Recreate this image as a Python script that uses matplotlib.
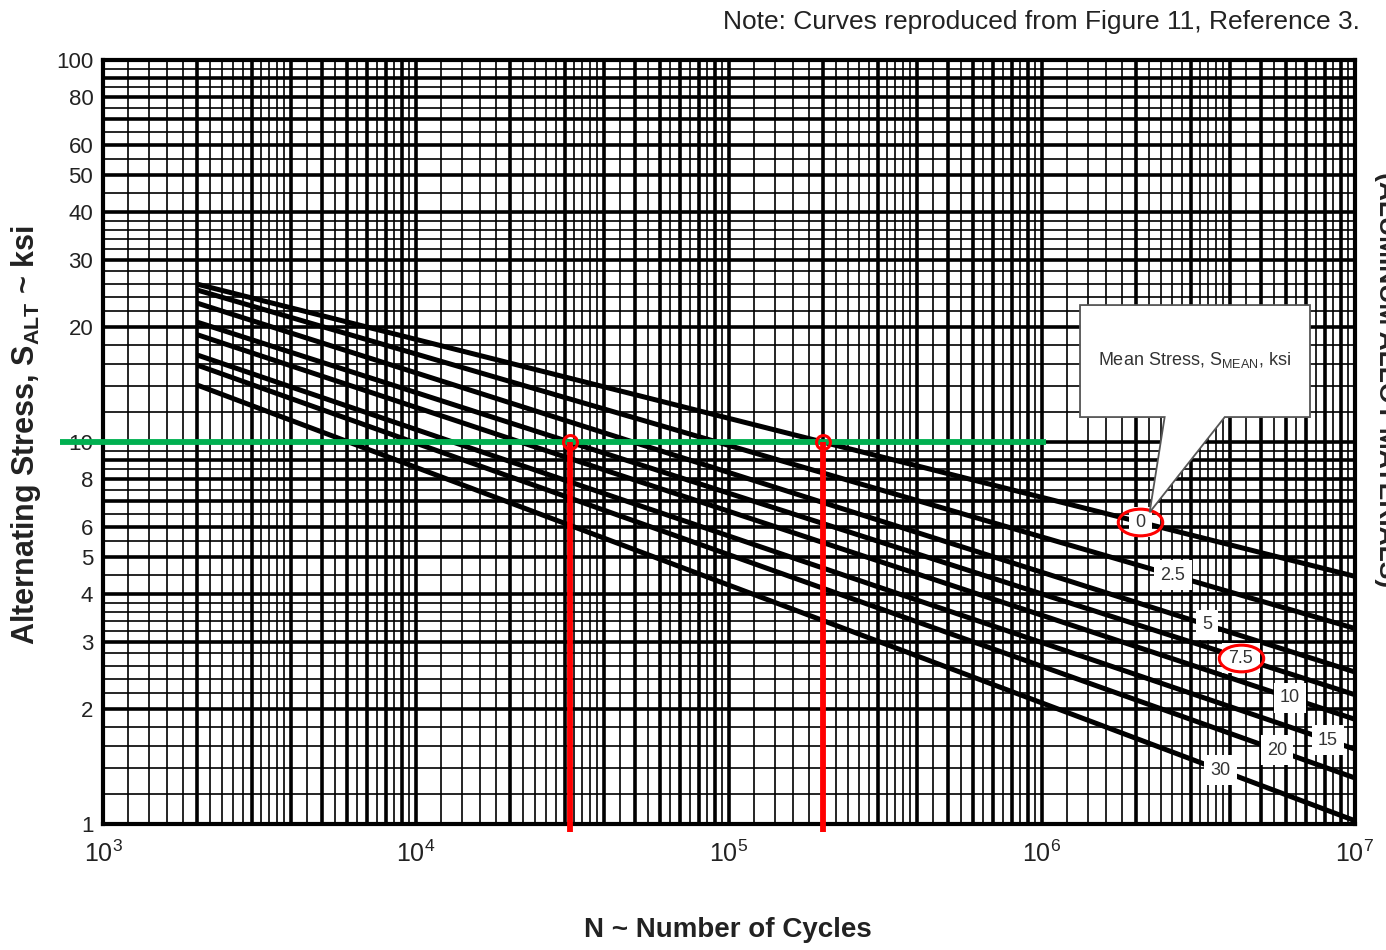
import numpy as np
import matplotlib
matplotlib.use("Agg")
import matplotlib.pyplot as plt
from matplotlib import font_manager
from matplotlib.ticker import FixedLocator, FuncFormatter, NullFormatter
from matplotlib.patches import Polygon
from matplotlib.path import Path
from matplotlib.transforms import Affine2D

# ---- S-N data (log-log straight lines between 2e3 and 1e7 cycles) ----
mean_stress = [0, 2.5, 5, 7.5, 10, 15, 20, 30]
curve_labels = ["0", "2.5", "5", "7.5", "10", "15", "20", "30"]
cycles_range = [2e3, 1e7]
s_alt_start = [25.9, 25.0, 23.1, 20.6, 19.1, 16.9, 15.9, 14.1]
s_alt_end = [4.45, 3.25, 2.50, 2.18, 1.88, 1.57, 1.32, 1.02]
label_cycles = [2.06e6, 2.62e6, 3.37e6, 4.32e6, 6.2e6, 8.2e6, 5.64e6, 3.71e6]
circled_means = [0, 7.5]
target_stress = 10.0

y_tick_values = [1, 2, 3, 4, 5, 6, 8, 10, 20, 30, 40, 50, 60, 80, 100]
x_decades = [3, 4, 5, 6, 7]
grid_major_mults = [1, 2, 3, 4, 5, 6, 7, 8, 9]
grid_minor_mults = [1.2, 1.4, 1.6, 1.8, 2.2, 2.4, 2.6, 2.8, 3.2, 3.4, 3.6, 3.8,
                    4.5, 5.5, 6.5, 7.5, 8.5, 9.5]


def pick_family(candidates):
    for fam in candidates:
        try:
            font_manager.findfont(font_manager.FontProperties(family=fam),
                                  fallback_to_default=False)
            return fam
        except Exception:
            continue
    return "DejaVu Sans"


narrow = pick_family(["Liberation Sans Narrow", "Arial Narrow", "Liberation Sans"])
plain = pick_family(["Liberation Sans", "Arial", "DejaVu Sans"])
plt.rcParams["font.family"] = [plain, "DejaVu Sans"]
plt.rcParams["mathtext.default"] = "regular"


def stress_at(i, n):
    l0, l1 = np.log10(cycles_range[0]), np.log10(cycles_range[1])
    t = (np.log10(n) - l0) / (l1 - l0)
    a, b = np.log10(s_alt_start[i]), np.log10(s_alt_end[i])
    return 10 ** (a + t * (b - a))


def cycles_at(i, s):
    l0, l1 = np.log10(cycles_range[0]), np.log10(cycles_range[1])
    a, b = np.log10(s_alt_start[i]), np.log10(s_alt_end[i])
    t = (np.log10(s) - a) / (b - a)
    return 10 ** (l0 + t * (l1 - l0))


fig = plt.figure(figsize=(13.86, 9.5), dpi=100)
fig.patch.set_facecolor("white")
ax = fig.add_axes([0.0743, 0.1326, 0.9033, 0.8042])
ax.set_xscale("log")
ax.set_yscale("log")
ax.set_xlim(1e3, 1e7)
ax.set_ylim(1, 100)

# log-paper grid
x_major = [m * 10.0 ** e for e in range(3, 7) for m in grid_major_mults] + [1e7]
x_minor = [m * 10.0 ** e for e in range(3, 7) for m in grid_minor_mults]
y_major = [m * 10.0 ** e for e in range(0, 2) for m in grid_major_mults] + [100]
y_minor = [m * 10.0 ** e for e in range(0, 2) for m in grid_minor_mults]

ax.xaxis.set_major_locator(FixedLocator(x_major))
ax.xaxis.set_minor_locator(FixedLocator(x_minor))
ax.yaxis.set_major_locator(FixedLocator(y_major))
ax.yaxis.set_minor_locator(FixedLocator(y_minor))
ax.xaxis.set_minor_formatter(NullFormatter())
ax.yaxis.set_minor_formatter(NullFormatter())


def x_fmt(v, pos):
    e = np.log10(v)
    if abs(e - round(e)) < 1e-6 and int(round(e)) in x_decades:
        return "$10^{%d}$" % int(round(e))
    return ""


def y_fmt(v, pos):
    for t in y_tick_values:
        if abs(v - t) < 1e-6 * t:
            return "%g" % t
    return ""


ax.xaxis.set_major_formatter(FuncFormatter(x_fmt))
ax.yaxis.set_major_formatter(FuncFormatter(y_fmt))
ax.tick_params(which="both", length=0)
ax.tick_params(axis="x", pad=12, labelsize=18, labelcolor="#222")
ax.tick_params(axis="y", pad=7, labelsize=16, labelcolor="#222")
for lab in ax.get_xticklabels() + ax.get_yticklabels():
    lab.set_family([narrow, "DejaVu Sans"])

ax.grid(which="major", color="black", lw=2.6)
ax.grid(which="minor", color="black", lw=1.2)
for sp in ax.spines.values():
    sp.set_linewidth(3)
    sp.set_color("black")

# S-N curves
for i in range(len(mean_stress)):
    ax.plot(cycles_range, [s_alt_start[i], s_alt_end[i]], color="black",
            lw=3.6, solid_capstyle="butt", zorder=3)

# curve labels
for i, txt in enumerate(curve_labels):
    n = label_cycles[i]
    ax.text(n, stress_at(i, n), txt, ha="center", va="center", fontsize=13,
            color="#333", family=[narrow, "DejaVu Sans"], zorder=5,
            bbox=dict(boxstyle="square,pad=0.35", fc="white", ec="none"))

# red ellipses around highlighted labels
ellipse_marker = Path.unit_circle().transformed(Affine2D().scale(1.0, 0.6))
for m in circled_means:
    i = mean_stress.index(m)
    n = label_cycles[i]
    ax.plot([n], [stress_at(i, n)], marker=ellipse_marker, ms=32, mfc="none",
            mec="red", mew=2.2, ls="none", zorder=6)

# target stress line and resulting lives
ax.plot([730, 1.03e6], [target_stress, target_stress], color="#00B050", lw=4.2,
        clip_on=False, zorder=6, solid_capstyle="butt")
for m in circled_means:
    i = mean_stress.index(m)
    n = cycles_at(i, target_stress)
    ax.plot([n, n], [target_stress, 0.953], color="red", lw=4.2, clip_on=False,
            zorder=7, solid_capstyle="butt")
    ax.plot([n], [target_stress], "o", ms=10, mfc="none", mec="red", mew=2.2,
            zorder=8)

# callout box
callout = Polygon([(0.7804, 0.6793), (0.9641, 0.6793), (0.9641, 0.5327),
                   (0.896, 0.5327), (0.836, 0.408), (0.848, 0.5327),
                   (0.7804, 0.5327)], closed=True, transform=ax.transAxes,
                  fc="white", ec="#555", lw=1.3, zorder=9)
ax.add_patch(callout)
ax.text(0.872, 0.607, "Mean Stress, S$_{MEAN}$, ksi", transform=ax.transAxes,
        ha="center", va="center", fontsize=13, color="#333",
        family=[narrow, "DejaVu Sans"], zorder=10)

# axis titles and notes
fig.text(0.019, 0.542, "Alternating Stress, S$_{ALT}$ ~ ksi", rotation=90,
         ha="center", va="center", fontsize=22, fontweight="bold", color="#222")
fig.text(0.525, 0.021, "N ~ Number of Cycles", ha="center", va="center",
         fontsize=20, fontweight="bold", color="#222", family=[narrow, "DejaVu Sans"])
fig.text(0.981, 0.977, "Note: Curves reproduced from Figure 11, Reference 3.",
         ha="right", va="center", fontsize=19, color="#222",
         family=[narrow, "DejaVu Sans"])
fig.text(1.0, 0.60, "(ALUMINUM ALLOY MATERIALS)", rotation=-90, ha="center",
         va="center", fontsize=19, fontweight="bold", color="#222")

fig.savefig("out.png", dpi=100, facecolor="white")
